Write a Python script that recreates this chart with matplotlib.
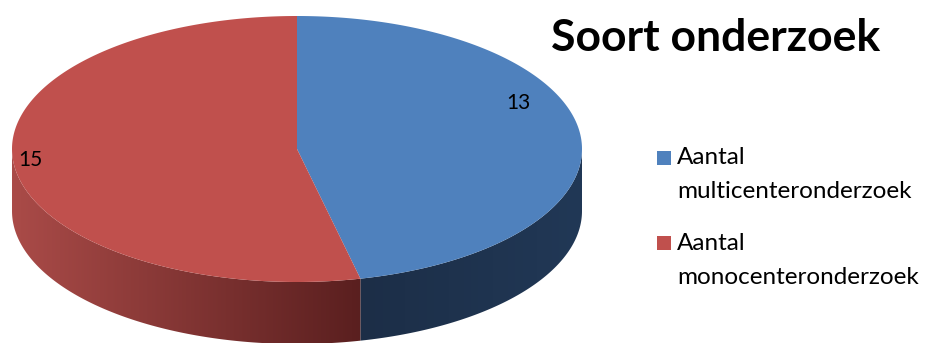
import numpy as np
import matplotlib
matplotlib.use('Agg')
import matplotlib.pyplot as plt
from matplotlib.patches import Polygon, Rectangle
from matplotlib.colors import LinearSegmentedColormap

plt.rcParams['font.family'] = ['Lato', 'DejaVu Sans']

# --- data ---
categories = ['Aantal\nmulticenteronderzoek', 'Aantal\nmonocenteronderzoek']
values = [13, 15]
top_colors = ['#4F81BD', '#C0504D']
side_colors = [('#1C2E47', '#213856'), ('#AA4B48', '#5A1F1F')]   # left -> right
title = 'Soort onderzoek'

# --- layout (pixels) ---
W, H = 929, 343
cx, cy = 297, 149
rx, ry = 285, 133
depth = 62

fig = plt.figure(figsize=(W / 100, H / 100), dpi=100)
ax = fig.add_axes([0, 0, 1, 1])
ax.set_xlim(0, W)
ax.set_ylim(H, 0)
ax.axis('off')


def ell(theta):
    # theta: degrees, clockwise from 12 o'clock
    t = np.radians(theta)
    return cx + rx * np.sin(t), cy - ry * np.cos(t)


total = sum(values)
bounds = np.concatenate([[0], np.cumsum(values) / total * 360])

# zijkanten (alleen voorkant, 90..270 graden)
for i in range(len(values)):
    a0, a1 = max(bounds[i], 90), min(bounds[i + 1], 270)
    if a1 <= a0:
        continue
    th = np.linspace(a0, a1, 200)
    x, y = ell(th)
    pts = np.column_stack([np.concatenate([x, x[::-1]]),
                           np.concatenate([y, y[::-1] + depth])])
    poly = Polygon(pts, closed=True, facecolor='none', edgecolor='none')
    ax.add_patch(poly)
    cmap = LinearSegmentedColormap.from_list('s%d' % i, side_colors[i])
    grad = np.linspace(0, 1, 256).reshape(1, -1)
    im = ax.imshow(grad, cmap=cmap, aspect='auto',
                   extent=[x.min(), x.max(), y.max() + depth, y.min()],
                   interpolation='bilinear', zorder=1)
    im.set_clip_path(poly)

# bovenvlakken
for i in range(len(values)):
    th = np.linspace(bounds[i], bounds[i + 1], 300)
    x, y = ell(th)
    pts = np.column_stack([np.concatenate([[cx], x]), np.concatenate([[cy], y])])
    ax.add_patch(Polygon(pts, closed=True, facecolor=top_colors[i],
                         edgecolor='none', zorder=2))

# waardelabels
label_xy = [(518, 103), (30, 160)]
for v, (lx, ly) in zip(values, label_xy):
    ax.text(lx, ly, str(v), fontsize=15, ha='center', va='center', zorder=3)

# titel
ax.text(716, 38, title, fontsize=32, fontweight='bold', ha='center', va='center')

# legenda
for i, lab in enumerate(categories):
    ly = 158 + i * 85
    ax.add_patch(Rectangle((657, ly - 7), 14, 14, facecolor=top_colors[i],
                           edgecolor='none'))
    first, second = lab.split('\n')
    ax.text(677, ly, first, fontsize=17.5, ha='left', va='center')
    ax.text(677, ly + 34, second, fontsize=17.5, ha='left', va='center')

fig.savefig('out.png', dpi=100)
